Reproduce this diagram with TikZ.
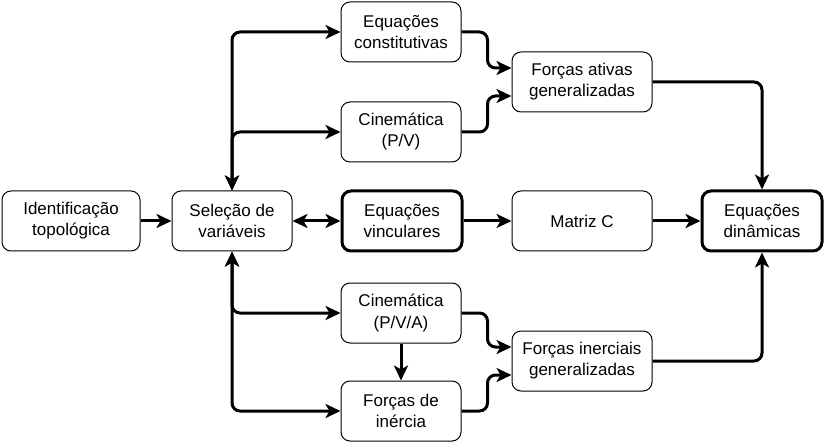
\documentclass[tikz,border=0pt]{standalone}
\usepackage{fontspec}
\setmainfont{Liberation Sans}
\usetikzlibrary{arrows.meta}

\tikzset{
	bloco/.style={draw, rounded corners=9pt, line width=1pt, minimum width=120pt, minimum height=60pt, inner sep=0pt, align=center, font=\fontsize{17}{21}\selectfont},
	bloco largo/.style={bloco, minimum width=140pt},
	bloco forte/.style={bloco, line width=3pt},
	seta/.style={->, line width=3pt, rounded corners=8pt},
}

\begin{document}
\begin{tikzpicture}[x=1pt, y=-1pt, >={Stealth[length=15pt,width=14pt,inset=4pt]}]
	\useasboundingbox (0,0) rectangle (824,446);

	% linha central
	\node[bloco, minimum width=138pt] (ident) at (71,221) {Identificação\\topológica};
	\node[bloco] (selecao) at (232,221) {Seleção de\\variáveis};
	\node[bloco forte] (vinculares) at (402,221) {Equações\\vinculares};
	\node[bloco largo] (matriz) at (582,221) {Matriz C};
	\node[bloco forte] (dinamicas) at (762,221) {Equações\\dinâmicas};

	% ramo superior
	\node[bloco] (constit) at (401,32) {Equações\\constitutivas};
	\node[bloco] (cinPV) at (401,132) {Cinemática\\(P/V)};
	\node[bloco largo] (ativas) at (582,82) {Forças ativas\\generalizadas};

	% ramo inferior
	\node[bloco] (cinPVA) at (401,313) {Cinemática\\(P/V/A)};
	\node[bloco] (inercia) at (401,411) {Forças de\\inércia};
	\node[bloco largo] (inerciais) at (582,361) {Forças inerciais\\generalizadas};

	\draw[seta] (ident) -- (selecao);
	\draw[seta, <->] (selecao) -- (vinculares);
	\draw[seta] (vinculares) -- (matriz);
	\draw[seta] (matriz) -- (dinamicas);

	\draw[seta, <->] (selecao.north) |- (constit.west);
	\draw[seta, <->] (selecao.north) |- (cinPV.west);
	\draw[seta, <->] (selecao.south) |- (cinPVA.west);
	\draw[seta, <->] (selecao.south) |- (inercia.west);
	\draw[seta] (cinPVA) -- (inercia);

	\draw[seta] (constit.east) -- ++(26,0) |- ([yshift=14pt]ativas.west);
	\draw[seta] (cinPV.east) -- ++(26,0) |- ([yshift=-14pt]ativas.west);
	\draw[seta] (cinPVA.east) -- ++(26,0) |- ([yshift=14pt]inerciais.west);
	\draw[seta] (inercia.east) -- ++(26,0) |- ([yshift=-14pt]inerciais.west);

	\draw[seta] (ativas.east) -| (dinamicas.north);
	\draw[seta] (inerciais.east) -| (dinamicas.south);
\end{tikzpicture}
\end{document}
